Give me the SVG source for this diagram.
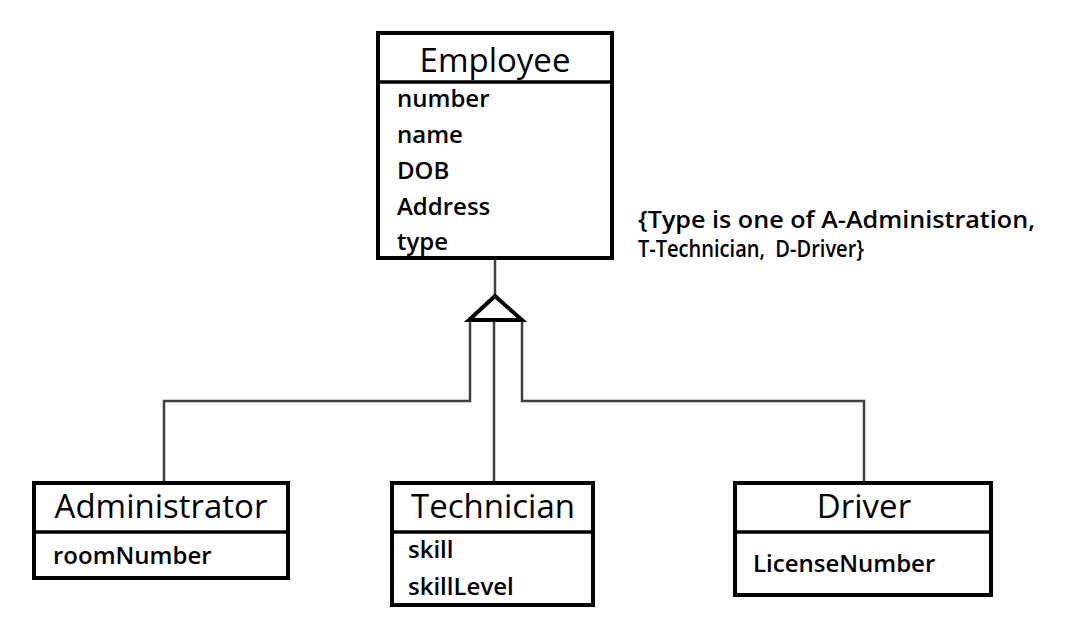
<svg xmlns="http://www.w3.org/2000/svg" width="1070" height="638" viewBox="0 0 1070 638">
<style>
.box{fill:#fff;stroke:#000;stroke-width:4}
.div{stroke:#000;stroke-width:3.5}
.hdr{font-family:"Open Sans","Liberation Sans",sans-serif;font-size:33px;fill:#000;text-anchor:middle}
.att{font-family:"Open Sans","Liberation Sans",sans-serif;font-size:24px;font-weight:600;fill:#000}
.note{font-family:"Open Sans","Liberation Sans",sans-serif;font-size:23px;font-weight:600;fill:#000}
.con{fill:none;stroke:#404040;stroke-width:2.5}
</style>
<rect width="1070" height="638" fill="#fff"/>
<g id="connectors">
<line class="con" x1="495" y1="258" x2="495" y2="296"/>
<polyline class="con" points="470,320 470,401 164,401 164,483"/>
<line class="con" x1="494" y1="320" x2="494" y2="483"/>
<polyline class="con" points="522,320 522,401 864,401 864,483"/>
<polygon points="495,296 469,320 522,320" fill="#fff" stroke="#000" stroke-width="4" stroke-linejoin="miter"/>
</g>
<g id="employee">
<rect class="box" x="378" y="33" width="234" height="225"/>
<line class="div" x1="378" y1="82" x2="612" y2="82"/>
<text class="hdr" x="495" y="72">Employee</text>
<text class="att" x="397" y="107">number</text>
<text class="att" x="397" y="143">name</text>
<text class="att" x="397" y="179">DOB</text>
<text class="att" x="397" y="215">Address</text>
<text class="att" x="397" y="250">type</text>
</g>
<g id="administrator">
<rect class="box" x="34" y="483" width="254" height="95"/>
<line class="div" x1="34" y1="532" x2="288" y2="532"/>
<text class="hdr" x="161" y="518">Administrator</text>
<text class="att" x="53" y="564">roomNumber</text>
</g>
<g id="technician">
<rect class="box" x="392" y="483" width="201" height="122"/>
<line class="div" x1="392" y1="532" x2="593" y2="532"/>
<text class="hdr" x="493" y="518">Technician</text>
<text class="att" x="408" y="558">skill</text>
<text class="att" x="408" y="595">skillLevel</text>
</g>
<g id="driver">
<rect class="box" x="735" y="483" width="256" height="112"/>
<line class="div" x1="735" y1="532" x2="991" y2="532"/>
<text class="hdr" x="864" y="518">Driver</text>
<text class="att" x="753" y="572">LicenseNumber</text>
</g>
<g id="note">
<text class="note" x="638" y="228" textLength="397" lengthAdjust="spacingAndGlyphs">{Type is one of A-Administration,</text>
<text class="note" x="638" y="257" textLength="226" lengthAdjust="spacingAndGlyphs" xml:space="preserve">T-Technician,  D-Driver}</text>
</g>
</svg>
